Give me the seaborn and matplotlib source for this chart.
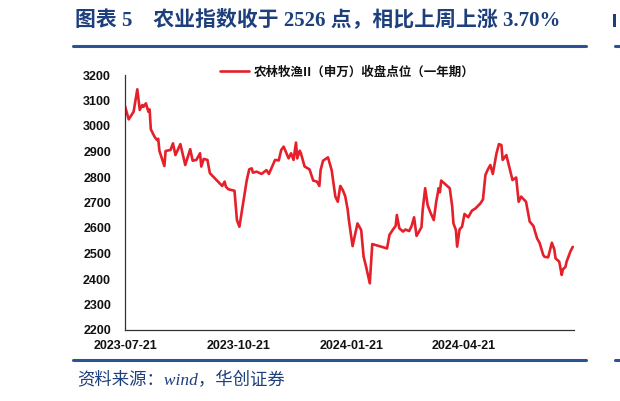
import pandas as pd
import matplotlib
matplotlib.use("Agg")
import matplotlib.pyplot as plt
import matplotlib.dates as mdates
from matplotlib.patches import Rectangle
import seaborn as sns

# 农林牧渔II（申万）收盘点位
dates = [
    "2023-07-21", "2023-07-24", "2023-07-28", "2023-07-31", "2023-08-02", "2023-08-04",
    "2023-08-05", "2023-08-07", "2023-08-09", "2023-08-10", "2023-08-11", "2023-08-14",
    "2023-08-16", "2023-08-17", "2023-08-18", "2023-08-22", "2023-08-23", "2023-08-27",
    "2023-08-29", "2023-08-31", "2023-09-04", "2023-09-08", "2023-09-12", "2023-09-14",
    "2023-09-17", "2023-09-20", "2023-09-21", "2023-09-23", "2023-09-26", "2023-09-28",
    "2023-10-08", "2023-10-10", "2023-10-11", "2023-10-13", "2023-10-18", "2023-10-20",
    "2023-10-22", "2023-10-25", "2023-10-28", "2023-10-30", "2023-11-01", "2023-11-02",
    "2023-11-05", "2023-11-09", "2023-11-13", "2023-11-15", "2023-11-20", "2023-11-23",
    "2023-11-25", "2023-11-27", "2023-11-29", "2023-12-01", "2023-12-03", "2023-12-05",
    "2023-12-07", "2023-12-08", "2023-12-10", "2023-12-11", "2023-12-14", "2023-12-18",
    "2023-12-21", "2023-12-24", "2023-12-26", "2023-12-27", "2023-12-29", "2024-01-02",
    "2024-01-05", "2024-01-08", "2024-01-10", "2024-01-12", "2024-01-14", "2024-01-16",
    "2024-01-18", "2024-01-19", "2024-01-22", "2024-01-26", "2024-01-29", "2024-01-31",
    "2024-02-02", "2024-02-05", "2024-02-07", "2024-02-19", "2024-02-21", "2024-02-24",
    "2024-02-26", "2024-02-27", "2024-02-29", "2024-03-03", "2024-03-05", "2024-03-08",
    "2024-03-10", "2024-03-12", "2024-03-14", "2024-03-18", "2024-03-19", "2024-03-21",
    "2024-03-23", "2024-03-25", "2024-03-28", "2024-03-30", "2024-04-01", "2024-04-02",
    "2024-04-03", "2024-04-10", "2024-04-12", "2024-04-13", "2024-04-15", "2024-04-16",
    "2024-04-18", "2024-04-20", "2024-04-22", "2024-04-25", "2024-04-28", "2024-05-01",
    "2024-05-05", "2024-05-07", "2024-05-09", "2024-05-11", "2024-05-13", "2024-05-15",
    "2024-05-18", "2024-05-20", "2024-05-22", "2024-05-23", "2024-05-26", "2024-05-29",
    "2024-05-31", "2024-06-03", "2024-06-05", "2024-06-07", "2024-06-11", "2024-06-14",
    "2024-06-17", "2024-06-20", "2024-06-22", "2024-06-25", "2024-06-26", "2024-06-29",
    "2024-07-02", "2024-07-04", "2024-07-05", "2024-07-08", "2024-07-10", "2024-07-11",
    "2024-07-13", "2024-07-14", "2024-07-17", "2024-07-19",
]
close_points = [
    3078, 3026, 3056, 3144, 3063, 3082,
    3075, 3089, 3056, 3065, 2987, 2958,
    2945, 2950, 2902, 2843, 2902, 2906,
    2932, 2886, 2929, 2847, 2909, 2864,
    2867, 2893, 2841, 2871, 2867, 2815,
    2765, 2782, 2762, 2752, 2746, 2631,
    2605, 2697, 2788, 2830, 2834, 2817,
    2821, 2812, 2827, 2812, 2867, 2865,
    2906, 2919, 2896, 2873, 2893, 2867,
    2935, 2873, 2903, 2893, 2841, 2830,
    2786, 2782, 2765, 2827, 2864, 2877,
    2827, 2723, 2703, 2765, 2749, 2725,
    2673, 2631, 2529, 2618, 2592, 2487,
    2448, 2383, 2537, 2520, 2573, 2595,
    2608, 2651, 2599, 2586, 2594, 2588,
    2608, 2642, 2569, 2603, 2671, 2756,
    2690, 2664, 2631, 2703, 2756, 2740,
    2786, 2756, 2684, 2618, 2592, 2527,
    2595, 2605, 2655, 2642, 2668, 2677,
    2697, 2712, 2808, 2830, 2847, 2812,
    2893, 2929, 2925, 2867, 2886, 2827,
    2788, 2798, 2703, 2723, 2703, 2625,
    2608, 2559, 2542, 2494, 2487, 2485,
    2542, 2516, 2481, 2468, 2416, 2438,
    2447, 2468, 2507, 2526,
]
tick_dates = ["2023-07-21", "2023-10-21", "2024-01-21", "2024-04-21"]
y_ticks = list(range(2200, 3201, 100))

series_name = "农林牧渔II（申万）收盘点位（一年期）"
title = "图表 5    农业指数收于 2526 点，相比上周上涨 3.70%"
source = "资料来源：wind，华创证券"

NAVY = "#1D3F7C"
RULE = "#2A5393"
RED = "#E5202B"

sns.set_style("white")
plt.rcParams["font.family"] = ["Liberation Sans", "Noto Sans CJK SC", "DejaVu Sans"]

df = pd.DataFrame({"date": pd.to_datetime(dates), "close": close_points})

fig = plt.figure(figsize=(6.2, 4.01), dpi=100)
ax = fig.add_axes([125 / 620, 71 / 401, 449 / 620, 255 / 401])

sns.lineplot(data=df, x="date", y="close", ax=ax, color=RED, linewidth=1.9,
             label=series_name)

ax.set_xlim(pd.Timestamp("2023-07-21"), pd.Timestamp("2024-07-20"))
ax.set_ylim(2200, 3200)
ax.set_xticks(pd.to_datetime(tick_dates))
ax.xaxis.set_major_formatter(mdates.DateFormatter("%Y-%m-%d"))
ax.set_yticks(y_ticks)
ax.set_xlabel("")
ax.set_ylabel("")

for side in ["top", "right"]:
    ax.spines[side].set_visible(False)
for side in ["left", "bottom"]:
    ax.spines[side].set_color("#333333")
    ax.spines[side].set_linewidth(0.9)

ax.tick_params(axis="both", direction="in", length=4, width=0.8, color="#333333",
               labelsize=9, labelcolor="#111111")
ax.tick_params(axis="y", pad=10)
ax.tick_params(axis="x", pad=7)
for lbl in ax.get_xticklabels() + ax.get_yticklabels():
    lbl.set_fontweight("bold")

leg = ax.legend(loc="center", bbox_to_anchor=(0.495, 1.012), frameon=False,
                handlelength=2.3, handletextpad=0.4, borderaxespad=0,
                prop={"family": ["Noto Sans CJK SC"], "size": 9, "weight": "bold"})
for t in leg.get_texts():
    t.set_color("#111111")

# title, rules and source note
fig.text(75 / 620, 1 - 20 / 401, title, ha="left", va="center", fontsize=15,
         fontweight="bold", color=NAVY, family=["Liberation Serif", "Noto Sans CJK SC"])
fig.add_artist(plt.Line2D([73 / 620, 586 / 620], [1 - 46 / 401] * 2, color=RULE, lw=2.2))
fig.add_artist(plt.Line2D([73 / 620, 586 / 620], [1 - 360 / 401] * 2, color=RULE, lw=2.2))
fig.text(77 / 620, 1 - 381 / 401, source, ha="left", va="center", fontsize=12.5,
         style="italic", color=NAVY, family=["Liberation Serif", "Noto Sans CJK SC"])

# edge of the neighbouring chart, cut off by the crop
fig.add_artist(Rectangle((613 / 620, 1 - 27 / 401), 3 / 620, 13 / 401,
                         transform=fig.transFigure, color=NAVY, lw=0))
fig.add_artist(plt.Line2D([615 / 620, 1.0], [1 - 46 / 401] * 2, color=RULE, lw=2.2))
fig.add_artist(plt.Line2D([615 / 620, 1.0], [1 - 360 / 401] * 2, color=RULE, lw=2.2))

fig.savefig("out.png", dpi=100)
